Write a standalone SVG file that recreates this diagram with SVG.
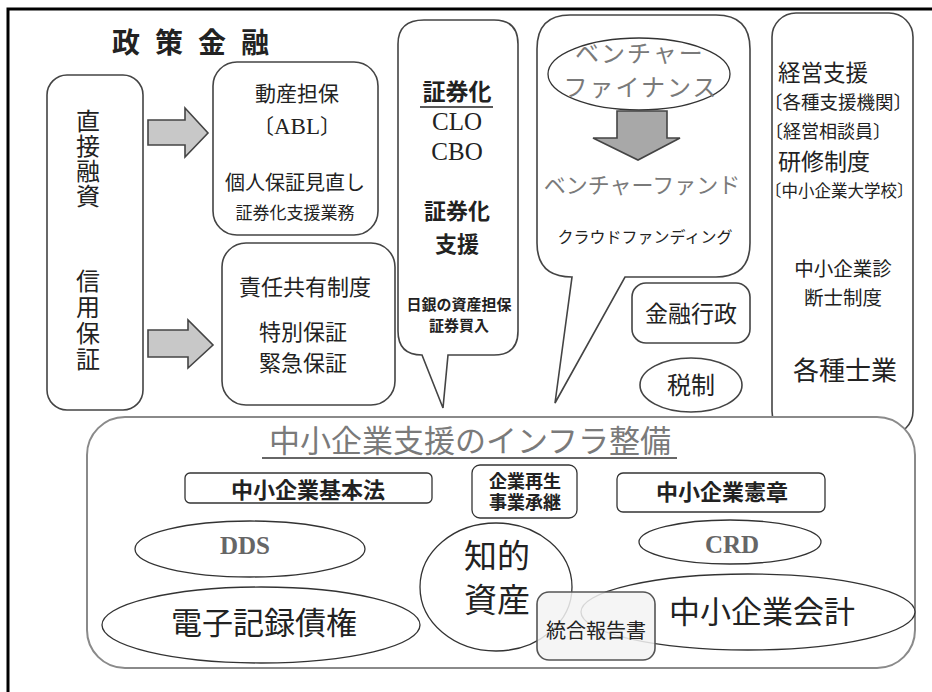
<svg xmlns="http://www.w3.org/2000/svg" width="932" height="692" viewBox="0 0 932 692">
<style>
.s{font-family:"Noto Sans CJK JP","Noto Sans",sans-serif;fill:#222}
.r{font-family:"Liberation Serif","Noto Sans CJK JP",serif;fill:#222}
.b{font-weight:bold}
.c{text-anchor:middle}
.v{writing-mode:vertical-rl}
.box{fill:#fff;stroke:#444;stroke-width:1.6}
.thin{fill:#fff;stroke:#333;stroke-width:1.3}
.grey{fill:#7a7a7a}
.arr{fill:#c8c8c8;stroke:#444;stroke-width:1.6}
</style>
<rect x="0" y="0" width="932" height="692" fill="#fff"/>
<rect id="frame" x="8" y="9" width="940" height="700" fill="none" stroke="#000" stroke-width="3"/>

<g id="title">
<text class="s b" font-size="28" y="53"><tspan x="112">政</tspan><tspan x="155">策</tspan><tspan x="198">金</tspan><tspan x="241">融</tspan></text>
</g>

<g id="direct">
<rect class="box" x="47" y="75" width="96" height="335" rx="20"/>
<text class="s v" font-size="24" letter-spacing="1" x="88" y="109">直接融資</text>
<text class="s v" font-size="24" letter-spacing="2" x="88" y="269">信用保証</text>
</g>

<g id="abl">
<rect class="box" x="213" y="62" width="165" height="173" rx="24"/>
<text class="s c" font-size="21" x="297" y="101">動産担保</text>
<text class="c" x="297" y="134"><tspan class="s" font-size="21">〔</tspan><tspan class="r" font-size="23">ABL</tspan><tspan class="s" font-size="21">〕</tspan></text>
<text class="s c" font-size="20" x="295" y="190">個人保証見直し</text>
<text class="s c" font-size="17" x="295" y="219">証券化支援業務</text>
</g>

<g id="sekinin">
<rect class="box" x="222" y="243" width="173" height="162" rx="24"/>
<text class="s c" font-size="22" x="305" y="295">責任共有制度</text>
<text class="s c" font-size="22" x="303" y="340">特別保証</text>
<text class="s c" font-size="22" x="303" y="371">緊急保証</text>
</g>

<g id="securitization">
<path class="box" d="M424,20 H494 Q518,20 518,44 V331 Q518,355 494,355 H448 L443,408 L422,355 Q398,355 398,331 V44 Q398,20 424,20 Z"/>
<text class="s b c" font-size="23" x="457" y="100">証券化</text>
<line x1="420" y1="107" x2="493" y2="107" stroke="#222" stroke-width="1.5"/>
<text class="r c" font-size="25" x="457" y="130">CLO</text>
<text class="r c" font-size="25" x="457" y="160">CBO</text>
<text class="s b c" font-size="22" x="457" y="219">証券化</text>
<text class="s b c" font-size="22" x="457" y="252">支援</text>
<text class="s b c" font-size="15" x="459" y="310">日銀の資産担保</text>
<text class="s b c" font-size="15" x="459" y="331">証券買入</text>
</g>

<g id="venture">
<path class="box" d="M570,15 H716 Q750,15 750,49 V243 Q750,277 716,277 H625 L555,403 L572,277 Q537,277 537,243 V49 Q537,15 570,15 Z"/>
<ellipse class="thin" cx="639" cy="74" rx="91" ry="36"/>
<text class="s grey c" font-size="24" letter-spacing="2" x="640" y="62">ベンチャー</text>
<text class="s grey c" font-size="24" letter-spacing="2" x="641" y="96">ファイナンス</text>
<text class="s grey c" font-size="22" x="642" y="193">ベンチャーファンド</text>
<text class="s c" font-size="16" x="645" y="243">クラウドファンディング</text>
</g>

<g id="keiei">
<rect class="box" x="772" y="13" width="141" height="422" rx="24"/>
<text class="s" font-size="22.5" x="778" y="81">経営支援</text>
<text class="s" font-size="18.5" x="764" y="109">〔各種支援機関〕</text>
<text class="s" font-size="18" x="765" y="138">〔経営相談員〕</text>
<text class="s" font-size="23" x="778" y="170">研修制度</text>
<text class="s" font-size="16.5" x="765" y="197">〔中小企業大学校〕</text>
<text class="s c" font-size="19.5" x="843" y="276">中小企業診</text>
<text class="s c" font-size="19.5" x="843" y="305">断士制度</text>
<text class="s c" font-size="26" x="845" y="380">各種士業</text>
</g>

<g id="gyosei">
<rect class="box" x="632" y="283" width="118" height="60" rx="14"/>
<text class="s c" font-size="23" x="691" y="322">金融行政</text>
</g>

<g id="zeisei">
<ellipse class="box" cx="691" cy="385" rx="51" ry="27"/>
<text class="s c" font-size="24" x="691" y="394">税制</text>
</g>

<g id="infra">
<rect x="87" y="417" width="828" height="251" rx="38" fill="#fff" stroke="#8a8a8a" stroke-width="2"/>
<text class="s grey c" font-size="31" x="470" y="452">中小企業支援のインフラ整備</text>
<line x1="262" y1="458" x2="677" y2="458" stroke="#333" stroke-width="1.5"/>
</g>

<g id="kihonho">
<rect class="thin" x="185" y="473" width="247" height="30" rx="5"/>
<text class="r b c" font-size="22" x="308" y="498">中小企業基本法</text>
</g>

<g id="saisei">
<rect class="thin" x="472" y="465" width="105" height="53" rx="8" stroke-width="1.6"/>
<text class="r b c" font-size="18" x="525" y="488">企業再生</text>
<text class="r b c" font-size="18" x="525" y="509">事業承継</text>
</g>

<g id="kensho">
<rect class="thin" x="617" y="473" width="208" height="39" rx="6"/>
<text class="r b c" font-size="22" x="722" y="500">中小企業憲章</text>
</g>

<g id="dds">
<ellipse class="thin" cx="250" cy="549" rx="115" ry="28"/>
<text class="r b c" font-size="25" x="245" y="554" style="fill:#666">DDS</text>
</g>

<g id="crd">
<ellipse class="thin" cx="730" cy="542" rx="91" ry="22"/>
<text class="r b c" font-size="25" x="732" y="553" style="fill:#666">CRD</text>
</g>

<g id="denshi">
<ellipse class="thin" cx="261" cy="625" rx="159" ry="38"/>
<text class="s c" font-size="31" x="264" y="634">電子記録債権</text>
</g>

<g id="chiteki">
<ellipse class="thin" cx="496" cy="587" rx="76" ry="64"/>
<text class="s c" font-size="33" x="497" y="568">知的</text>
<text class="s c" font-size="33" x="497" y="612">資産</text>
</g>

<g id="kaikei">
<ellipse class="thin" cx="748" cy="612" rx="167" ry="38"/>
<text class="s c" font-size="31" x="762" y="623">中小企業会計</text>
</g>

<g id="togo">
<rect x="537" y="592" width="118" height="68" rx="12" fill="#f3f3f3" fill-opacity="0.85" stroke="#555" stroke-width="1.6"/>
<text class="s c" font-size="20" x="596" y="638">統合報告書</text>
</g>

<g id="connectors">
<path class="arr" d="M148,120 H185 V108 L208,133 L185,157 V145 H148 Z"/>
<path class="arr" d="M148,330 H188 V320 L213,345 L188,368 V357 H148 Z"/>
<path class="arr" style="fill:#a8a8a8" d="M617,111 H667 V138 H680 L638,160 L593,138 H617 Z"/>
</g>
</svg>
